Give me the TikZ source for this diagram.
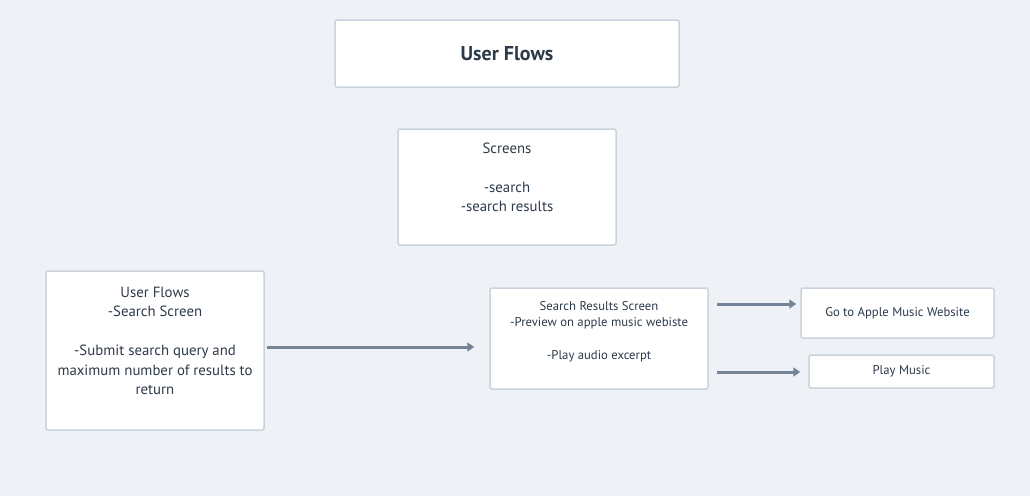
\documentclass[tikz,border=0pt]{standalone}
\usepackage{fontspec}
\setmainfont{PT Sans}
\usepackage{tikz}
\usetikzlibrary{arrows.meta}
\definecolor{bg}{HTML}{EEF2F6}
\definecolor{boxline}{HTML}{CAD3DD}
\definecolor{ink}{HTML}{2D3A4A}
\definecolor{flowline}{HTML}{748398}

\begin{document}
\begin{tikzpicture}[x=1pt,y=-1pt,
	box/.style={draw=boxline,fill=white,line width=1.5pt,rounded corners=2pt,align=center,text=ink,inner sep=0pt},
	big/.style={font=\fontsize{14.8}{19.5}\selectfont},
	small/.style={font=\fontsize{12.7}{16.5}\selectfont},
	flow/.style={draw=flowline,line width=3pt,-{Triangle[length=7pt,width=9pt]}}]
	\fill [bg] (0,0) rectangle (1030,496);
	\node [box,minimum width=344pt,minimum height=67pt,font=\bfseries\fontsize{20}{22}\selectfont] (title) at (507,53.5) {User Flows};
	\node [box,big,minimum width=218pt,minimum height=116pt] (screens) at (507,187) {Screens\\~\\-search\\-search results\\~};
	\node [box,big,minimum width=218pt,minimum height=159pt] (search) at (155,350.5) {User Flows\\-Search Screen\\~\\-Submit search query and\\maximum number of results to\\return\\~};
	\node [box,small,minimum width=218pt,minimum height=101pt] (results) at (599,338.5) {Search Results Screen\\-Preview on apple music webiste\\~\\-Play audio excerpt\\~};
	\node [box,small,minimum width=193pt,minimum height=50pt] (website) at (897.5,313) {Go to Apple Music Website};
	\node [box,small,minimum width=185pt,minimum height=33pt] (play) at (901.5,371.5) {Play Music};
	\draw [flow,shorten <=2pt,shorten >=15pt] ([yshift=3.5pt]search.east) -- ([yshift=3.5pt]search.east -| results.west);
	\draw [flow,shorten <=8pt,shorten >=4pt] ([yshift=34.5pt]results.east) -- ([yshift=34.5pt]results.east -| website.west);
	\draw [flow,shorten <=8pt,shorten >=8pt] ([yshift=-33.5pt]results.east) -- ([yshift=-33.5pt]results.east -| play.west);
\end{tikzpicture}
\end{document}
